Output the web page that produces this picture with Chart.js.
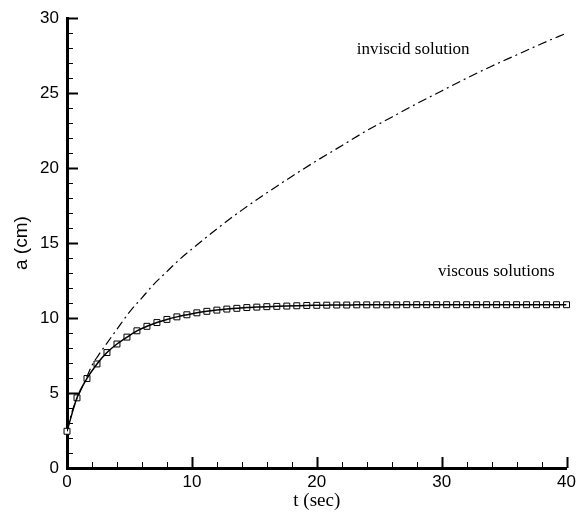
<!DOCTYPE html>
<html>
<head>
<meta charset="utf-8">
<script src="https://cdn.jsdelivr.net/npm/chart.js@4/dist/chart.umd.min.js"></script>
<style>
  html, body { margin: 0; padding: 0; background: #fff; }
  #wrap { width: 580px; height: 518px; }
</style>
</head>
<body>
<div id="wrap"><canvas id="growth"></canvas></div>
<script>
// inviscid solution (dash-dot)
const inviscidT = [0, 0.5, 1, 1.5, 2, 2.5, 3, 4, 5, 6, 7, 8, 9, 10, 12, 14, 16, 18, 20, 22, 24, 26, 28, 30, 32, 34, 36, 38, 40];
const inviscidA = [2.5, 4.0, 5.0, 5.9, 6.85, 7.5, 8.1, 9.25, 10.4, 11.35, 12.3, 13.1, 13.9, 14.6, 15.95, 17.2, 18.35, 19.45, 20.5, 21.5, 22.5, 23.4, 24.3, 25.15, 26.0, 26.8, 27.55, 28.3, 29.0];

// viscous solutions (solid line + square markers)
const viscousT = [0, 0.8, 1.6, 2.4, 3.2, 4.0, 4.8, 5.6, 6.4, 7.2, 8.0, 8.8, 9.6, 10.4, 11.2, 12.0, 12.8,
  13.6, 14.4, 15.2, 16.0, 16.8, 17.6, 18.4, 19.2, 20.0, 20.8, 21.6, 22.4, 23.2, 24.0, 24.8, 25.6,
  26.4, 27.2, 28.0, 28.8, 29.6, 30.4, 31.2, 32.0, 32.8, 33.6, 34.4, 35.2, 36.0, 36.8, 37.6, 38.4, 39.2, 40.0];
const viscousA = [2.45, 4.68, 5.97, 6.94, 7.70, 8.27, 8.73, 9.15, 9.45, 9.70, 9.91, 10.08, 10.22, 10.35, 10.45, 10.53, 10.60,
  10.65, 10.70, 10.73, 10.76, 10.78, 10.80, 10.82, 10.84, 10.85, 10.86, 10.87, 10.87, 10.88, 10.88, 10.88, 10.88,
  10.88, 10.89, 10.89, 10.89, 10.89, 10.89, 10.89, 10.89, 10.89, 10.89, 10.89, 10.89, 10.89, 10.89, 10.89, 10.89, 10.89, 10.89];

const xTicks = [0, 10, 20, 30, 40];
const yTicks = [0, 5, 10, 15, 20, 25, 30];

const pts = (ts, as) => ts.map((t, i) => ({ x: t, y: as[i] }));

const sansFont = "'Liberation Sans', Arial, sans-serif";
const serifFont = "'Liberation Serif', 'Times New Roman', serif";

// inward tick marks + text labels on the plot
const decorations = {
    id: "decorations",
    afterDraw(chart) {
        const { ctx, chartArea } = chart;
        const xs = chart.scales.x, ys = chart.scales.y;
        ctx.save();
        ctx.strokeStyle = "#000";
        for (let v = 0; v <= 30; v++) {
            const major = v % 5 === 0;
            const py = Math.round(ys.getPixelForValue(v)) + 0.5;
            ctx.lineWidth = major ? 2 : 1;
            ctx.beginPath();
            ctx.moveTo(chartArea.left, py);
            ctx.lineTo(chartArea.left + (major ? 11 : 6), py);
            ctx.stroke();
        }
        for (let v = 0; v <= 40; v += 2) {
            const major = v % 10 === 0;
            const px = Math.round(xs.getPixelForValue(v)) + 0.5;
            ctx.lineWidth = major ? 2 : 1;
            ctx.beginPath();
            ctx.moveTo(px, chartArea.bottom);
            ctx.lineTo(px, chartArea.bottom - (major ? 11 : 6));
            ctx.stroke();
        }
        ctx.fillStyle = "#000";
        ctx.font = "17px " + serifFont;
        ctx.textAlign = "left";
        ctx.textBaseline = "middle";
        ctx.fillText("inviscid solution", xs.getPixelForValue(23.2), ys.getPixelForValue(27.9));
        ctx.fillText("viscous solutions", xs.getPixelForValue(29.7), ys.getPixelForValue(13.1));
        ctx.restore();
    }
};

new Chart(document.getElementById("growth"), {
    type: "scatter",
    plugins: [decorations],
    data: {
        datasets: [
            {
                label: "inviscid solution",
                data: pts(inviscidT, inviscidA),
                showLine: true,
                borderColor: "#000",
                borderWidth: 1.2,
                borderDash: [9, 4, 2, 4],
                pointRadius: 0,
                cubicInterpolationMode: "monotone",
            },
            {
                label: "viscous solution",
                data: pts(viscousT, viscousA),
                showLine: true,
                borderColor: "#000",
                borderWidth: 1.5,
                pointRadius: 0,
                cubicInterpolationMode: "monotone",
            },
            {
                label: "viscous solution (markers)",
                data: pts(viscousT, viscousA),
                showLine: false,
                pointStyle: "rect",
                pointRadius: 4.2,
                pointBorderWidth: 1,
                pointBorderColor: "#000",
                pointBackgroundColor: "#fff",
                clip: false,
            }
        ]
    },
    options: {
        responsive: true,
        maintainAspectRatio: false,
        animation: false,
        layout: { padding: { top: 11, right: 13, left: 0, bottom: 0 } },
        plugins: {
            legend: { display: false },
            tooltip: { enabled: false }
        },
        scales: {
            x: {
                type: "linear",
                min: 0,
                max: 40,
                afterFit: (s) => { s.height = 50; },
                afterBuildTicks: (s) => { s.ticks = xTicks.map(v => ({ value: v })); },
                grid: { drawOnChartArea: false, drawTicks: false },
                border: { color: "#000", width: 3 },
                ticks: { color: "#000", padding: 4, font: { family: sansFont, size: 17 } },
                title: {
                    display: true,
                    text: "t (sec)",
                    color: "#000",
                    padding: { top: 0, bottom: 6 },
                    font: { family: serifFont, size: 19 }
                }
            },
            y: {
                type: "linear",
                min: 0,
                max: 30,
                afterFit: (s) => { s.width = 67; },
                afterBuildTicks: (s) => { s.ticks = yTicks.map(v => ({ value: v })); },
                grid: { drawOnChartArea: false, drawTicks: false },
                border: { color: "#000", width: 3 },
                ticks: { color: "#000", padding: 8, font: { family: sansFont, size: 17 } },
                title: {
                    display: true,
                    text: "a (cm)",
                    color: "#000",
                    padding: { top: 10, bottom: 0 },
                    font: { family: sansFont, size: 19 }
                }
            }
        }
    }
});
</script>
</body>
</html>
